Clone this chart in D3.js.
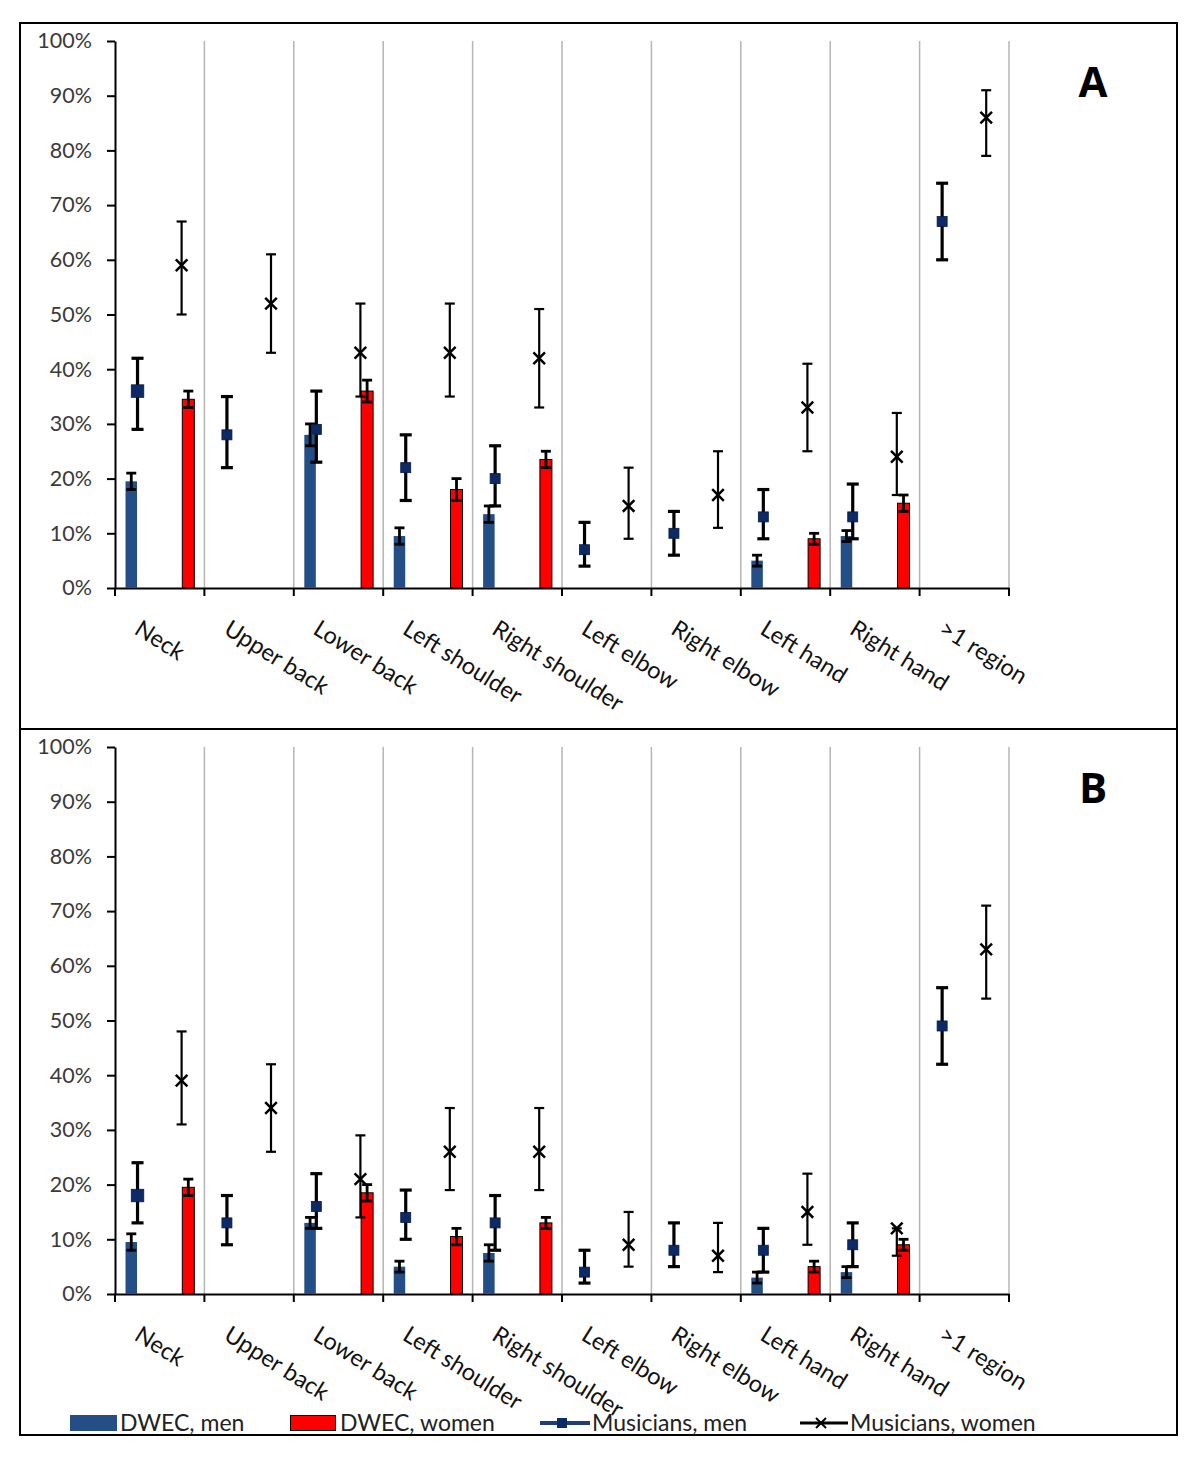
<!DOCTYPE html>
<html><head><meta charset="utf-8">
<script src="https://cdn.jsdelivr.net/npm/d3@7"></script>
<style>body{margin:0;background:#fff}svg{display:block}</style>
</head><body>
<svg id="c" width="1200" height="1462"></svg>
<script>
// ---------------- data ----------------
const categories = ["Neck","Upper back","Lower back","Left shoulder","Right shoulder","Left elbow","Right elbow","Left hand","Right hand",">1 region"];
const yTickValues = [0,10,20,30,40,50,60,70,80,90,100];
const yTickLabels = ["0%","10%","20%","30%","40%","50%","60%","70%","80%","90%","100%"];
const seriesNames = ["DWEC, men","DWEC, women","Musicians, men","Musicians, women"];
const panelLabels = ["A","B"];

// Panel A
const dwecMenA      = [19.5, null, 28, 9.5, 13.5, null, null, 5, 9.5, null];
const dwecMenErrA   = [1.5, null, 2, 1.5, 1.5, null, null, 1, 1, null];
const dwecWomenA    = [34.5, null, 36, 18, 23.5, null, null, 9, 15.5, null];
const dwecWomenErrA = [1.5, null, 2, 2, 1.5, null, null, 1, 1.5, null];
const musMenA       = [36, 28, 29, 22, 20, 7, 10, 13, 13, 67];
const musMenLoA     = [29, 22, 23, 16, 15, 4, 6, 9, 9, 60];
const musMenHiA     = [42, 35, 36, 28, 26, 12, 14, 18, 19, 74];
const musWomenA     = [59, 52, 43, 43, 42, 15, 17, 33, 24, 86];
const musWomenLoA   = [50, 43, 35, 35, 33, 9, 11, 25, 17, 79];
const musWomenHiA   = [67, 61, 52, 52, 51, 22, 25, 41, 32, 91];

// Panel B
const dwecMenB      = [9.5, null, 13, 5, 7.5, null, null, 3, 4, null];
const dwecMenErrB   = [1.5, null, 1, 1, 1.5, null, null, 1, 1, null];
const dwecWomenB    = [19.5, null, 18.5, 10.5, 13, null, null, 5, 9, null];
const dwecWomenErrB = [1.5, null, 1.5, 1.5, 1, null, null, 1, 1, null];
const musMenB       = [18, 13, 16, 14, 13, 4, 8, 8, 9, 49];
const musMenLoB     = [13, 9, 12, 10, 8, 2, 5, 4, 5, 42];
const musMenHiB     = [24, 18, 22, 19, 18, 8, 13, 12, 13, 56];
const musWomenB     = [39, 34, 21, 26, 26, 9, 7, 15, 12, 63];
const musWomenLoB   = [31, 26, 14, 19, 19, 5, 4, 9, 7, 54];
const musWomenHiB   = [48, 42, 29, 34, 34, 15, 13, 22, 12, 71];

// ---------------- drawing ----------------
const FONT = "Lato, 'Open Sans', sans-serif";
const C_BLUE = "#234e86", C_RED = "#ff0000", C_NAVY = "#0c2a66";
const svg = d3.select("#c");

const x = d3.scaleBand().domain(categories).range([115, 1009]).padding(0);
const bw = x.bandwidth();
const sub = d3.scaleLinear().domain([0, 1]).range([0, bw]);
const pos = {dm: 0.182, mm: 0.252, mw: 0.745, dw: 0.82};
const px = (c, k) => x(c) + sub(pos[k]);
const y = d3.scaleLinear().domain([0, 100]).range([588, 41]);

const panels = [
  {label: panelLabels[0], dy: 0, dm: dwecMenA, dmE: dwecMenErrA, dw: dwecWomenA, dwE: dwecWomenErrA,
   mm: musMenA, mmLo: musMenLoA, mmHi: musMenHiA, mw: musWomenA, mwLo: musWomenLoA, mwHi: musWomenHiA},
  {label: panelLabels[1], dy: 706, dm: dwecMenB, dmE: dwecMenErrB, dw: dwecWomenB, dwE: dwecWomenErrB,
   mm: musMenB, mmLo: musMenLoB, mmHi: musMenHiB, mw: musWomenB, mwLo: musWomenLoB, mwHi: musWomenHiB}
];

function errBar(g, cx, lo, hi, capW, sw) {
  const e = g.append("g").attr("stroke", "#000").attr("stroke-width", sw);
  e.append("line").attr("x1", cx).attr("x2", cx).attr("y1", y(lo)).attr("y2", y(hi));
  e.append("line").attr("x1", cx - capW/2).attr("x2", cx + capW/2).attr("y1", y(lo)).attr("y2", y(lo));
  e.append("line").attr("x1", cx - capW/2).attr("x2", cx + capW/2).attr("y1", y(hi)).attr("y2", y(hi));
}

panels.forEach(p => {
  const g = svg.append("g").attr("transform", `translate(0,${p.dy})`);
  g.append("rect").attr("x", 20).attr("y", 23).attr("width", 1157).attr("height", 706)
    .attr("fill", "none").attr("stroke", "#000").attr("stroke-width", 2);

  // vertical gridlines at category boundaries
  g.append("g").selectAll("line").data(categories).join("line")
    .attr("x1", d => x(d) + bw).attr("x2", d => x(d) + bw)
    .attr("y1", y(100)).attr("y2", y(0))
    .attr("stroke", "#b5b5b5").attr("stroke-width", 1.5);

  // y axis
  const ya = g.append("g").attr("transform", "translate(115,0)")
    .call(d3.axisLeft(y).tickValues(yTickValues).tickFormat((d, i) => yTickLabels[i]).tickSize(8).tickPadding(15).tickSizeOuter(0));
  ya.select(".domain").attr("stroke", "#000").attr("stroke-width", 2);
  ya.selectAll(".tick line").attr("stroke", "#000").attr("stroke-width", 2);
  ya.selectAll(".tick text").attr("font-family", FONT).attr("font-size", 21.5).attr("fill", "#3a3a3a");

  // x axis
  const xa = g.append("g").attr("transform", `translate(0,${y(0)})`)
    .call(d3.axisBottom(x).tickSize(0).tickSizeOuter(0).tickFormat(""));
  xa.select(".domain").attr("stroke", "#000").attr("stroke-width", 2);
  const bounds = categories.map(c => x(c)).concat([x(categories[categories.length-1]) + bw]);
  g.append("g").selectAll("line").data(bounds).join("line")
    .attr("x1", d => d).attr("x2", d => d).attr("y1", y(0)).attr("y2", y(0) + 8)
    .attr("stroke", "#000").attr("stroke-width", 2);

  // category labels
  g.append("g").selectAll("text").data(categories).join("text")
    .attr("transform", d => `translate(${x(d) + 18},${y(0) + 45}) rotate(32)`)
    .attr("font-family", FONT).attr("font-size", 23.5).attr("fill", "#111")
    .text(d => d);

  // bars
  const bars = g.append("g");
  categories.forEach((c, i) => {
    if (p.dm[i] != null) {
      bars.append("rect").attr("x", px(c, "dm") - 5.75).attr("width", 11.5)
        .attr("y", y(p.dm[i])).attr("height", y(0) - y(p.dm[i])).attr("fill", C_BLUE);
    }
    if (p.dw[i] != null) {
      bars.append("rect").attr("x", px(c, "dw") - 6).attr("width", 12)
        .attr("y", y(p.dw[i])).attr("height", y(0) - y(p.dw[i])).attr("fill", C_RED)
        .attr("stroke", "#000").attr("stroke-width", 1);
    }
  });
  categories.forEach((c, i) => {
    if (p.dm[i] != null) errBar(g, px(c, "dm"), p.dm[i] - p.dmE[i], p.dm[i] + p.dmE[i], 10, 2.8);
    if (p.dw[i] != null) errBar(g, px(c, "dw"), p.dw[i] - p.dwE[i], p.dw[i] + p.dwE[i], 10, 2.8);
  });

  // musicians, men
  categories.forEach((c, i) => {
    const cx = px(c, "mm");
    errBar(g, cx, p.mmLo[i], p.mmHi[i], 12, 3.2);
    const s = i === 0 ? 12.5 : 10;
    g.append("rect").attr("x", cx - s/2).attr("y", y(p.mm[i]) - s/2).attr("width", s).attr("height", s)
      .attr("fill", C_NAVY).attr("stroke", "#061a45").attr("stroke-width", 0.8);
  });

  // musicians, women
  categories.forEach((c, i) => {
    const cx = px(c, "mw");
    errBar(g, cx, p.mwLo[i], p.mwHi[i], 10, 2.2);
    const h = 5.8, cy = y(p.mw[i]);
    g.append("path").attr("d", `M${cx-h},${cy-h}L${cx+h},${cy+h}M${cx-h},${cy+h}L${cx+h},${cy-h}`)
      .attr("stroke", "#000").attr("stroke-width", 2.5).attr("fill", "none");
  });

  // panel label
  g.append("text").attr("x", 1093).attr("y", 97).attr("text-anchor", "middle")
    .attr("font-family", "'Open Sans', Arial, sans-serif").attr("font-weight", 700).attr("font-size", 42)
    .attr("fill", "#000").text(p.label);
});

// legend
const lg = svg.append("g").attr("font-family", FONT).attr("font-size", 23).attr("fill", "#222");
const ly = 1423;
lg.append("rect").attr("x", 70).attr("y", ly - 8).attr("width", 47).attr("height", 16).attr("fill", C_BLUE);
lg.append("text").attr("x", 120).attr("y", ly + 8).text(seriesNames[0]);
lg.append("rect").attr("x", 290.5).attr("y", ly - 7.5).attr("width", 45).attr("height", 15).attr("fill", C_RED)
  .attr("stroke", "#000").attr("stroke-width", 1);
lg.append("text").attr("x", 340).attr("y", ly + 8).text(seriesNames[1]);
lg.append("line").attr("x1", 540).attr("x2", 590).attr("y1", ly).attr("y2", ly).attr("stroke", "#1f3d78").attr("stroke-width", 4);
lg.append("rect").attr("x", 557).attr("y", ly - 5).attr("width", 10).attr("height", 10).attr("fill", C_NAVY);
lg.append("text").attr("x", 592).attr("y", ly + 8).text(seriesNames[2]);
lg.append("line").attr("x1", 800).attr("x2", 848).attr("y1", ly).attr("y2", ly).attr("stroke", "#000").attr("stroke-width", 3);
lg.append("path").attr("d", `M${821-5},${ly-5}L${821+5},${ly+5}M${821-5},${ly+5}L${821+5},${ly-5}`)
  .attr("stroke", "#000").attr("stroke-width", 2);
lg.append("text").attr("x", 850).attr("y", ly + 8).text(seriesNames[3]);
</script>
</body></html>
